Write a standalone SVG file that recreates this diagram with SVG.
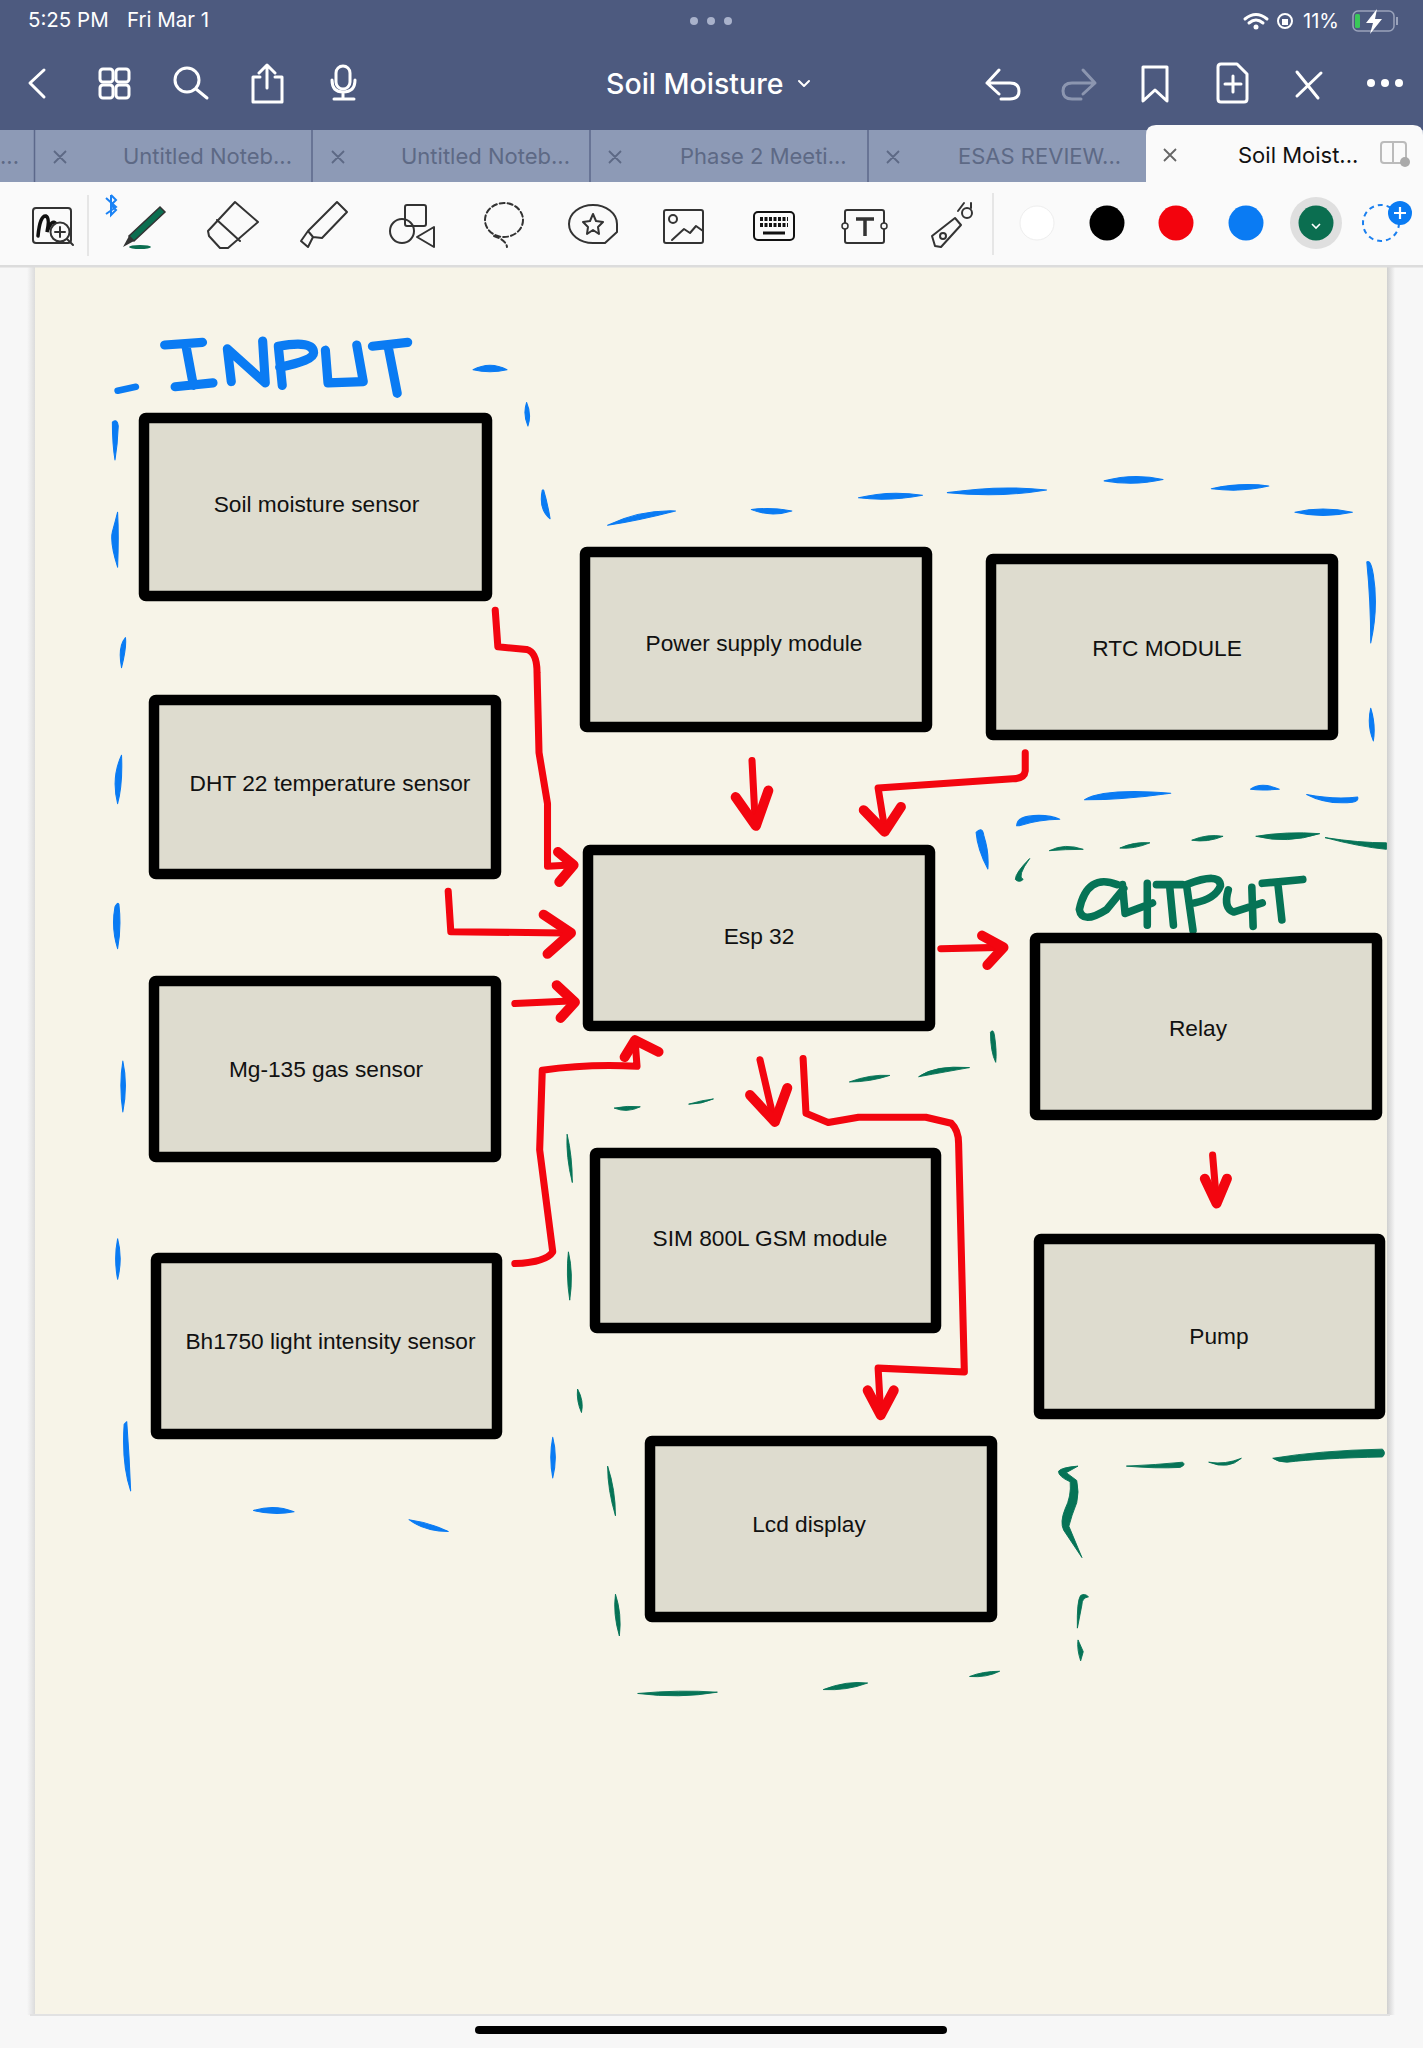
<svg xmlns="http://www.w3.org/2000/svg" width="1423" height="2048" viewBox="0 0 1423 2048">
<style>
.node{fill:#dedccf;stroke:#000;stroke-width:10.5;stroke-linejoin:round}
.lbl{font:22.7px "Liberation Sans",Arial,sans-serif;fill:#111;text-anchor:middle}
.ink{fill:none;stroke-linecap:round;stroke-linejoin:round}
.red{stroke:#f3050f;stroke-width:5.4}
.hd{stroke-width:7.6}
.blue{fill:#0a7bf3;stroke:#0a7bf3;stroke-width:.8;stroke-linejoin:round}
.green{fill:#067356;stroke:#067356;stroke-width:.7;stroke-linejoin:round}
.bl{fill:none;stroke:#0a7bf3;stroke-linecap:round;stroke-linejoin:round;stroke-width:7}
.gl{fill:none;stroke:#067356;stroke-linecap:round;stroke-linejoin:round;stroke-width:5.8}
.w{fill:none;stroke:#fff;stroke-width:3;stroke-linecap:round;stroke-linejoin:round}
.t{fill:none;stroke:#333;stroke-width:2;stroke-linecap:round;stroke-linejoin:round}
.ui{font-family:Inter,"Liberation Sans",sans-serif}
.tab{font:22px Inter,"Liberation Sans",sans-serif;fill:#5d6985}
.x{stroke:#5d6985;stroke-width:1.8;fill:none}
</style>
<defs>
<linearGradient id="sh" x1="0" x2="1"><stop offset="0" stop-color="#cfcfcf"/><stop offset="1" stop-color="#f7f7f7"/></linearGradient>
<linearGradient id="shl" x1="1" x2="0"><stop offset="0" stop-color="#dcdcdc"/><stop offset="1" stop-color="#f7f7f7"/></linearGradient>
</defs>
<rect width="1423" height="2048" fill="#f7f7f7"/>
<rect x="1387" y="267" width="8" height="1748" fill="url(#sh)"/>
<rect x="27" y="267" width="8" height="1748" fill="url(#shl)"/>
<rect x="30" y="2014" width="1360" height="2" fill="#e2e2e2"/>
<rect id="page" x="35" y="267" width="1352" height="1747" fill="#f7f4e8"/>
<g id="chrome">
<rect width="1423" height="130" fill="#4d5a7f"/>
<rect y="130" width="1423" height="52" fill="#8d9ab6"/>
<path d="M34.500 130V182M312 130V182M590 130V182M868 130V182" stroke="#5c688a" stroke-width="1.500"/>
<rect y="182" width="1423" height="83" fill="#fafafa"/>
<rect y="265" width="1423" height="2.500" fill="#dcdcdc"/>
<path d="M1146 182V135Q1146 125 1156 125H1413Q1423 125 1423 135V182Z" fill="#fafafa"/>
<text class="ui" x="28" y="27" font-size="20.500" fill="#fff">5:25 PM</text>
<text class="ui" x="127" y="27" font-size="20.500" fill="#fff">Fri Mar 1</text>
<circle cx="694" cy="21" r="4" fill="#a9b2cb"/><circle cx="711" cy="21" r="4" fill="#a9b2cb"/><circle cx="728" cy="21" r="4" fill="#a9b2cb"/>
<path d="M1245 19Q1256 10 1267 19M1249 23Q1256 17 1263 23" class="w"/><circle cx="1256" cy="27" r="2.500" fill="#fff"/>
<circle cx="1285" cy="21" r="7" fill="none" stroke="#fff" stroke-width="2"/><rect x="1282" y="19" width="6" height="6" fill="#fff"/>
<text class="ui" x="1303" y="28" font-size="20" fill="#fff">11%</text>
<rect x="1353" y="11" width="41" height="20" rx="5" fill="none" stroke="#9aa3bb" stroke-width="1.500"/>
<rect x="1355" y="14" width="5" height="14" rx="1.500" fill="#39c759"/>
<path d="M1397 17V25" stroke="#9aa3bb" stroke-width="2"/>
<path d="M1377 9L1366 23H1373L1370 34L1382 19H1375Z" fill="#fff"/>
<path class="w" d="M44 70L30 83L44 97"/>
<rect class="w" x="100" y="69" width="13" height="13" rx="3"/><rect class="w" x="116" y="69" width="13" height="13" rx="3"/><rect class="w" x="100" y="85" width="13" height="13" rx="3"/><rect class="w" x="116" y="85" width="13" height="13" rx="3"/>
<circle class="w" cx="187" cy="80" r="12"/><path class="w" d="M196 89L207 98"/>
<path class="w" d="M260 77H253V102H282V77H275M267 88V66M259 73L267 65L275 73"/>
<rect class="w" x="336" y="66" width="14" height="23" rx="7"/><path class="w" d="M332 80Q332 92 343 92Q355 92 355 80M343 92V99M334 99H354"/>
<text class="ui" x="606" y="94" font-size="28.500" font-weight="500" fill="#fff">Soil Moisture</text>
<path class="w" d="M799 81L804 86L809 81" style="stroke-width:2"/>
<path class="w" d="M999 70L987 83L999 94M987 83H1010Q1019 83 1019 91Q1019 99 1010 99H1001"/>
<path class="w" style="stroke:#8c96b0" d="M1083 70L1095 83L1083 94M1095 83H1072Q1063 83 1063 91Q1063 99 1072 99H1081"/>
<path class="w" d="M1143 67H1167V101L1155 90L1143 101Z"/>
<path class="w" d="M1218 67Q1218 64 1221 64H1237L1247 74V99Q1247 102 1244 102H1221Q1218 102 1218 99ZM1233 76V92M1225 84H1241"/>
<path class="w" d="M1297 72L1318 98M1321 73L1297 96"/>
<circle cx="1371" cy="83" r="4" fill="#fff"/><circle cx="1385" cy="83" r="4" fill="#fff"/><circle cx="1399" cy="83" r="4" fill="#fff"/>
<text class="tab" x="0" y="164">...</text>
<path class="x" d="M54 151L66 163M66 151L54 163M332 151L344 163M344 151L332 163M609 151L621 163M621 151L609 163M887 151L899 163M899 151L887 163"/>
<text class="tab" x="123" y="164">Untitled Noteb...</text>
<text class="tab" x="401" y="164">Untitled Noteb...</text>
<text class="tab" x="680" y="164">Phase 2 Meeti...</text>
<text class="tab" x="958" y="164">ESAS REVIEW...</text>
<path d="M1164 149L1176 161M1176 149L1164 161" stroke="#666" stroke-width="1.800"/>
<text class="ui" x="1238" y="163" font-size="22" fill="#111">Soil Moist...</text>
<rect x="1381" y="142" width="25" height="21" rx="3" fill="none" stroke="#bbb" stroke-width="2"/><path d="M1393 142V163" stroke="#bbb" stroke-width="2"/><circle cx="1405" cy="162" r="5" fill="#aaa"/>
<path d="M88 195V256M993 193V255" stroke="#e0e0e0" stroke-width="1.500"/>
<rect class="t" x="33" y="208" width="38" height="35" rx="3"/><path d="M38 236Q40 215 46 216Q50 218 47 232Q52 218 56 224" fill="none" stroke="#111" stroke-width="3.500" stroke-linecap="round"/>
<circle cx="60" cy="232" r="9.500" fill="#fafafa" stroke="#333" stroke-width="2"/><path class="t" d="M60 227V237M55 232H65M67 239L73 245"/>
<path d="M106 198L116 207L106 214M111 195L116 200L111 205V195V215L116 210L111 205" fill="none" stroke="#1a82f5" stroke-width="2"/>
<path d="M160 207L129 236L134 241L165 212Z" fill="#0b6e50" stroke="#333" stroke-width="1.500"/><path d="M129 236L123 247L134 241Z" fill="#333"/><ellipse cx="140" cy="247" rx="11" ry="2" fill="#0b6e50"/>
<path class="t" d="M235 202L258 222L228 248H220L209 236L208 231ZM217 220L240 241"/>
<path class="t" d="M337 202L347 212L322 238L313 237L308 231ZM308 231L301 241L308 247L313 237"/>
<rect class="t" x="405" y="205" width="21" height="21" rx="2"/><circle class="t" cx="402" cy="231" r="12"/><path class="t" d="M434 227V247L417 237Z"/>
<ellipse class="t" cx="504" cy="220" rx="19" ry="17" stroke-dasharray="5 3"/><path class="t" d="M494 236Q506 240 507 247" stroke-dasharray="5 3"/>
<path class="t" d="M617 224A24 19 0 1 0 593 243H605L617 232Z"/><path class="t" d="M593 214L596 221L603 222L598 227L599 234L593 230L587 234L588 227L583 222L590 221Z"/>
<rect class="t" x="664" y="210" width="39" height="33" rx="2"/><circle class="t" cx="673" cy="219" r="4"/><path class="t" d="M672 240L684 229L690 233L696 226L703 231"/>
<rect x="754" y="212" width="40" height="28" rx="4" fill="none" stroke="#111" stroke-width="2"/><path d="M760 219H788M760 225H788" stroke="#111" stroke-width="4" stroke-dasharray="3 1.500"/><path d="M763 233H785" stroke="#111" stroke-width="3"/>
<rect class="t" x="845" y="210" width="39" height="33" rx="2"/><path d="M856 219H874M865 219V236" stroke="#333" stroke-width="3.500" fill="none"/><circle cx="845" cy="226" r="3" fill="#fafafa" stroke="#333" stroke-width="1.500"/><circle cx="884" cy="226" r="3" fill="#fafafa" stroke="#333" stroke-width="1.500"/>
<path class="t" d="M955 218L932 236L935 246L941 247L961 225ZM958 211L964 203M971 203V208"/><circle class="t" cx="967" cy="213" r="5"/><circle class="t" cx="943" cy="236" r="3"/>
<ellipse cx="1037" cy="223" rx="17" ry="17" fill="#fff" stroke="#eee"/>
<circle cx="1107" cy="223" r="17.500" fill="#000"/><circle cx="1176" cy="223" r="17.500" fill="#f3030d"/><circle cx="1246" cy="223" r="17.500" fill="#0a7bf3"/>
<circle cx="1316" cy="223" r="26" fill="#dfdfdf"/><circle cx="1316" cy="223" r="17.500" fill="#0b6e50"/><path d="M1312 224L1316 228L1320 224" fill="none" stroke="#fff" stroke-width="1.600"/>
<circle cx="1381" cy="223" r="18" fill="none" stroke="#1a7fef" stroke-width="2" stroke-dasharray="5 4"/><circle cx="1400" cy="213" r="12" fill="#0a7bf3"/><path d="M1394 213H1406M1400 207V219" stroke="#fff" stroke-width="2.200"/>
</g>
<g id="connectors" transform="scale(1.30670)">
<g id="red-arrows" class="ink red">
<path d="M379 467L381 495L403 497Q411 499 411 515L412.500 576L419 615L419 663L437 662"/><path class="hd" d="M427 652L439 662L428 675"/>
<path d="M343 682L345 713L432 714"/><path class="hd" d="M416 700L437 714L419 730"/>
<path d="M394 768L436 766"/><path class="hd" d="M426 754L440 767L429 779"/>
<path d="M394 967Q418 966 423 958L413 880L415 819Q450 814 487.500 816L486 796"/><path class="hd" d="M478 809L486 796L504 805"/>
<path d="M575.500 582L578 630"/><path class="hd" d="M563 610L578.500 632L588 605"/>
<path d="M784.600 576V590Q784 596 775 596L672 603L677 634"/><path class="hd" d="M661 620L677 636.500L689.500 617.500"/>
<path d="M720 726L765 725"/><path class="hd" d="M751.500 716L768 725L755.600 738.500"/>
<path d="M581.600 811L592 856"/><path class="hd" d="M574 838L593 858.600L602.500 832.600"/>
<path d="M614.600 810L616.800 852L633.800 859L657 855L708.500 855L728 859.600Q733.600 865 733.600 875L738 1050L672 1047L674 1082"/><path class="hd" d="M664 1064L674 1083L684 1064"/>
<path d="M928 884L931 920"/><path class="hd" d="M922 902L931 921L939 902"/>
</g>
</g>
<g id="input-boundary" transform="scale(1.30670)">
<path class="bl" d="M126 264L155 262M142 263L148 295M134 296L163 293"/>
<path class="bl" d="M177 292L174 267L203 293L201 261"/>
<path class="bl" d="M216 295L213 265Q240 260 240 270Q240 276 214 281"/>
<path class="bl" d="M249 268L251 293L278 292L273 264"/>
<path class="bl" d="M285 265L312 262M297 265L304 301"/>
<path class="bl" stroke-width="5" style="stroke-width:5" d="M90 299L104 296"/>
<path class="blue" d="M362 283Q375 276 388 283Q375 286 362 283ZM403 308Q400 317 404 326Q407 317 403 308ZM86 323Q90 320 90.500 326Q90 340 88 352Q86 340 86 323ZM90 392Q91 410 90 434Q84 415 86 407Q88 400 90 392ZM416 375Q419 385 421 397Q412 390 415 375ZM465 402Q490 390 517 391Q490 398 465 402ZM575 390Q590 388 606 391Q590 396 575 390ZM657 381Q680 375 706 379Q680 384 657 381ZM725 377Q765 371 801 375Q765 381 725 377ZM845 368Q868 362 890 367Q868 372 845 368ZM927 374Q950 369 971 372Q950 377 927 374ZM991 392Q1012 387 1035 392Q1012 397 991 392ZM1046 430Q1049 428 1051 440Q1055 465 1049 492Q1049 460 1046 430ZM1049 542Q1046 555 1051 567Q1053 555 1049 542ZM96 488Q97 495 93 511Q90 495 96 488ZM93 578Q94 600 90 615Q85 595 93 578ZM91 692Q93 710 90 726Q85 710 88 694Q90 690 91 692ZM94 812Q98 830 94 851Q91 830 94 812ZM90 948Q94 963 90 979Q87 963 90 948ZM97 1088Q99 1115 100 1141Q93 1120 95 1090ZM194 1156Q210 1151 225 1157Q210 1160 194 1156ZM313 1163Q328 1165 343 1172Q325 1172 313 1163ZM423 1100Q427 1115 423 1131Q420 1115 423 1100ZM747 637Q752 632 753 640Q757 652 756 665Q748 650 747 637ZM778 632Q778 624 795 624Q805 624 811 627Q795 627 780 632ZM830 612Q845 603 896 607Q860 612 830 612ZM957 604Q965 598 979 604Q965 605 957 604ZM1000 608Q1020 612 1039 610Q1040 613 1035 614Q1015 616 1000 608Z"/>
</g>
<g id="output-boundary" transform="scale(1.30670)">
<path class="gl" d="M855 677Q832 668 826 696Q828 708 847 696L860 680M859 677L861 699L882 691M878 676L878 708"/>
<path class="gl" d="M885 677L905 677M895 677L898 708"/>
<path class="gl" d="M913 712L908 677Q934 667 934 678Q930 688 914 691"/>
<path class="gl" d="M940 681Q936 695 944 698L966 691M958 679L959 709"/>
<path class="gl" d="M966 676L997 673M978 677L981 704"/>
<path class="green" d="M788 657Q777 668 777 673Q780 676 783 673Q778 671 788 657ZM803 651Q815 645 829 650Q815 650 803 651ZM857 649Q868 644 880 645Q868 650 857 649ZM912 643Q924 638 936 640Q924 645 912 643ZM961 640Q985 636 1010 638Q985 646 961 640ZM1014 641Q1040 645 1061 645V650Q1040 648 1014 641ZM758 790Q760 787 761 792Q763 805 762 813Q758 805 758 790ZM650 828Q666 822 681 823Q666 828 650 828ZM703 824Q715 815 742 817Q725 820 703 824ZM470 848Q480 846 490 847Q480 852 470 848ZM527 845Q537 842 546 841Q537 845 527 845ZM434 868Q438 885 438 905Q433 885 434 868ZM435 958Q439 975 436 995Q433 975 435 958ZM442 1063Q447 1072 445 1081Q441 1072 442 1063ZM465 1122Q471 1140 471 1160Q465 1140 465 1122ZM471 1220Q476 1235 474 1252Q469 1235 471 1220ZM488 1296Q520 1293 549 1295Q520 1300 488 1296ZM630 1293Q648 1286 664 1288Q648 1294 630 1293ZM742 1283Q752 1279 765 1279Q755 1284 742 1283ZM974 1116Q1010 1110 1058 1109Q1061 1112 1058 1115Q1010 1116 985 1119Q978 1119 974 1116ZM925 1119Q938 1121 950 1116Q940 1125 925 1119ZM862 1122Q885 1121 905 1119Q908 1121 903 1123Q885 1124 862 1122ZM825 1122Q812 1123 810 1126Q810 1130 819 1134Q820 1145 815 1155Q811 1165 814 1171L828 1192L818 1168Q820 1160 824 1150Q826 1142 824 1133L816 1127ZM824.500 1246Q824 1225 827 1221Q830 1219 833 1222Q828 1223 828 1228ZM825 1255L829 1264L827 1271Q824 1262 825 1255Z"/>
</g>
<g id="node-soil"><rect class="node" x="144" y="418" width="343" height="178" rx="2"/><text class="lbl" x="316.500" y="512">Soil moisture sensor</text></g>
<g id="node-power"><rect class="node" x="585" y="552" width="342" height="175" rx="2"/><text class="lbl" x="754" y="651">Power supply module</text></g>
<g id="node-rtc"><rect class="node" x="991" y="559" width="342" height="176" rx="2"/><text class="lbl" x="1167" y="656">RTC MODULE</text></g>
<g id="node-dht"><rect class="node" x="154" y="700" width="342" height="174" rx="2"/><text class="lbl" x="330" y="791">DHT 22 temperature sensor</text></g>
<g id="node-esp"><rect class="node" x="588" y="850" width="342" height="176" rx="2"/><text class="lbl" x="759" y="944">Esp 32</text></g>
<g id="node-relay"><rect class="node" x="1035" y="938" width="342" height="177" rx="2"/><text class="lbl" x="1198" y="1036">Relay</text></g>
<g id="node-mg"><rect class="node" x="154" y="981" width="342" height="176" rx="2"/><text class="lbl" x="326" y="1077">Mg-135 gas sensor</text></g>
<g id="node-sim"><rect class="node" x="595" y="1153" width="341" height="175" rx="2"/><text class="lbl" x="770" y="1246">SIM 800L GSM module</text></g>
<g id="node-bh"><rect class="node" x="156" y="1258" width="341" height="176" rx="2"/><text class="lbl" x="330.500" y="1349">Bh1750 light intensity sensor</text></g>
<g id="node-pump"><rect class="node" x="1039" y="1239" width="341" height="175" rx="2"/><text class="lbl" x="1219" y="1344">Pump</text></g>
<g id="node-lcd"><rect class="node" x="650" y="1441" width="342" height="176" rx="2"/><text class="lbl" x="809" y="1532">Lcd display</text></g>
<rect id="home-indicator" x="475" y="2026" width="472" height="8" rx="4" fill="#000"/>
</svg>
